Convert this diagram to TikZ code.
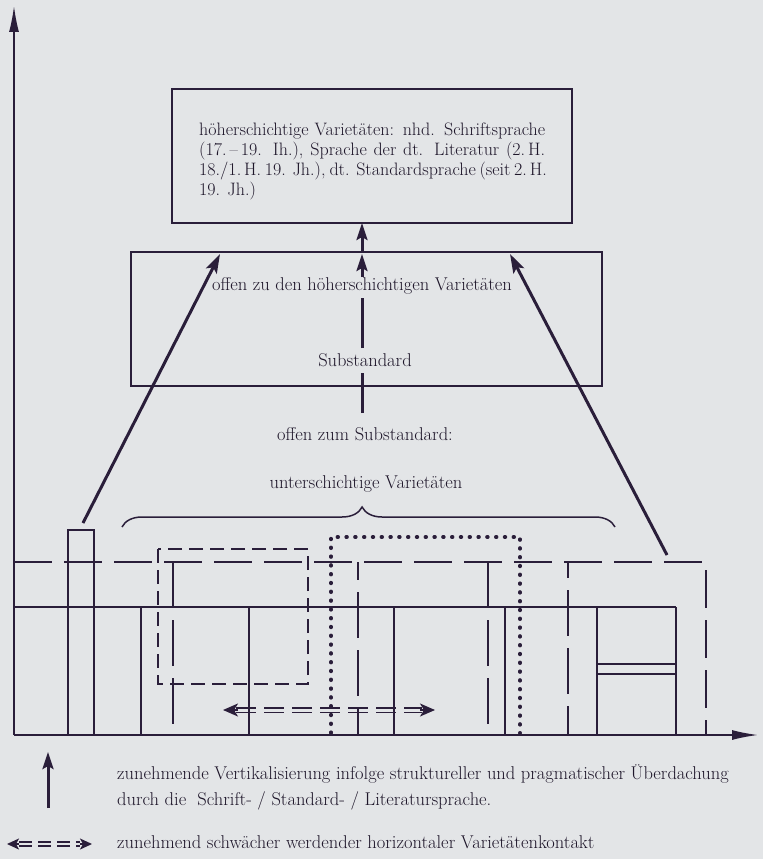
\documentclass[tikz,border=0pt]{standalone}
\usetikzlibrary{arrows.meta,decorations.pathreplacing}
\definecolor{paper}{RGB}{227,229,231}
\definecolor{ink}{RGB}{42,30,58}
\definecolor{textink}{RGB}{30,22,42}
\tikzset{
  rule/.style={draw=ink, line width=1.5pt},
  longdash/.style={rule, dash pattern=on 38pt off 12pt},
  vdash/.style={rule, dash pattern=on 46pt off 12pt, dash phase=#1},
  vdash/.default=0pt,
  shortdash/.style={rule, dash pattern=on 14pt off 7pt},
  dotrule/.style={draw=ink, line width=3.6pt, line cap=round, dash pattern=on 0.8pt off 8pt},
  pair/.style={draw=ink, line width=1.6pt, dash pattern=on 20pt off 8pt},
  legpair/.style={draw=ink, line width=1.6pt, dash pattern=on 13pt off 6pt},
  boxstyle/.style={rule, inner sep=0pt, outer sep=0pt},
  txt/.style={text=textink, inner sep=0pt, font=\fontsize{18.5}{20}\selectfont},
  boxtxt/.style={txt, font=\fontsize{18}{20}\selectfont},
  stem/.style={draw=ink, line width=3pt},
  thickarrow/.style={stem, -{Stealth[length=19pt,width=12pt,inset=4pt]}},
  carrow/.style={stem, -{Stealth[length=17pt,width=11pt,inset=3pt]}},
  axis/.style={rule, -{Latex[length=26pt,width=10pt]}},
  smallhead/.style={rule, -{Stealth[length=15pt,width=13pt,inset=4pt]}},
  tinyhead/.style={rule, -{Stealth[length=12pt,width=11pt,inset=3pt]}}
}
\begin{document}
\begin{tikzpicture}[x=1pt,y=-1pt]
\fill[paper] (0,0) rectangle (763,859);
\useasboundingbox (0,0) rectangle (763,859);

% axes
\coordinate (O) at (14,735);
\coordinate (ytip) at (14,6);
\coordinate (xtip) at (758,735);
\draw[axis] (O) -- (ytip);
\draw[axis] (O) -- (xtip);

% upper and middle boxes
\node[boxstyle, minimum width=400pt, minimum height=134pt] (hoch) at (372,156) {};
\node[boxstyle, minimum width=471pt, minimum height=134pt] (sub) at (366.5,319) {};

\node[boxtxt, anchor=north west, align=left] (hochtext) at (199,122.5)
  {\makebox[346pt][s]{höherschichtige Varietäten: nhd. Schriftsprache}\\
   \makebox[346pt][s]{(17.\,–\,19. Ih.), Sprache der dt. Literatur (2.\,H.}\\
   \makebox[346pt][s]{18./1.\,H. 19. Jh.), dt. Standardsprache (seit 2.\,H.}\\
   19. Jh.)};

\node[txt, anchor=base] (offenhoch) at (362,290) {offen zu den höherschichtigen Varietäten};
\node[txt, anchor=base] (substd) at (365,366) {Substandard};
\node[txt, anchor=base] (offensub) at (365,440) {offen zum Substandard:};
\node[txt, anchor=base] (unter) at (366,488) {unterschichtige Varietäten};

% central upward chain
\coordinate (c1) at (362,413);
\coordinate (c2) at (362,373);
\coordinate (c3) at (362,348);
\coordinate (c4) at (362,298);
\coordinate (c5) at (362,277);
\coordinate (c6) at (362,254);
\coordinate (c7) at (362,252);
\draw[stem] (c1) -- (c2);
\draw[stem] (c3) -- (c4);
\draw[carrow] (c5) -- (c6);
\draw[carrow] (c7) -- (c7 |- hoch.south);

% slanted arrows into the Substandard box
\coordinate (l0) at (83,523);
\coordinate (l1) at (220,254);
\coordinate (r0) at (667,555);
\coordinate (r1) at (510,254);
\draw[thickarrow] (l0) -- (l1);
\draw[thickarrow] (r0) -- (r1);

% brace over the lower varieties
\coordinate (bl) at (122,527);
\coordinate (br) at (615,527);
\draw[rule, decorate, decoration={brace, amplitude=20pt, aspect=0.487}] (bl) -- (br);

% solid lower structure
\draw[rule] (14,607) -- (676,607);
\draw[rule] (68,735) -- (68,530) -- (94,530) -- (94,735);
\foreach \x in {141,249,394,505,597,676} \draw[rule] (\x,607) -- (\x,735);
\draw[rule] (597,664) -- (676,664);
\draw[rule] (597,674) -- (676,674);

% dashed upper level with hanging verticals
\draw[longdash] (14,562) -- (706,562) -- (706,735);
\draw[vdash] (173,562) -- (173,735);
\draw[vdash=28pt] (358,562) -- (358,735);
\draw[vdash] (488,562) -- (488,735);
\draw[vdash=30pt] (568,562) -- (568,735);

% dashed square and dotted frame
\draw[shortdash] (158,549) rectangle (308,684);
\draw[dotrule] (331,733) -- (331,537) -- (520,537) -- (520,733);

% horizontal contact (double dashed, both directions)
\coordinate (hl) at (223,710);
\coordinate (hr) at (435,710);
\coordinate (hlb) at (238,710);
\coordinate (hrb) at (420,710);
\draw[pair] (236,707.7) -- (422,707.7);
\draw[pair] (236,712.3) -- (422,712.3);
\draw[smallhead] (hlb) -- (hl);
\draw[smallhead] (hrb) -- (hr);

% legend
\coordinate (g0) at (48,808);
\coordinate (g1) at (48,752);
\draw[carrow] (g0) -- (g1);
\node[txt, anchor=base west] (leg1) at (117,779)
  {zunehmende Vertikalisierung infolge struktureller und pragmatischer Überdachung};
\node[txt, anchor=base west] (leg2) at (117,805)
  {durch die\ \ Schrift- / Standard- / Literatursprache.};

\coordinate (k0) at (7,844);
\coordinate (k1) at (92,844);
\coordinate (k0b) at (19,844);
\coordinate (k1b) at (80,844);
\draw[legpair] (19,841.8) -- (80,841.8);
\draw[legpair] (19,846.2) -- (80,846.2);
\draw[tinyhead] (k0b) -- (k0);
\draw[tinyhead] (k1b) -- (k1);
\node[txt, anchor=base west] (leg3) at (117,848)
  {zunehmend schwächer werdender horizontaler Varietätenkontakt};
\end{tikzpicture}
\end{document}
